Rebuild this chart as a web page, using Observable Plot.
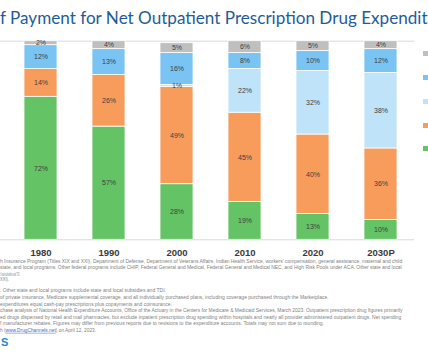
<!DOCTYPE html>
<html><head><meta charset="utf-8">
<script src="https://cdn.jsdelivr.net/npm/d3@7"></script>
<script src="https://cdn.jsdelivr.net/npm/@observablehq/plot@0.6"></script>
<style>
body{margin:0;background:#fff;}
#wrap{position:relative;width:428px;height:357px;overflow:hidden;background:#fff;font-family:"Liberation Sans",Arial,sans-serif;}
#wrap > *{position:absolute;}
</style></head><body>
<div id="wrap"></div>
<script>
// ---- data ----
const years = ["1980","1990","2000","2010","2020","2030P"];
const sources = ["Out-of-Pocket","Private Health Insurance","Medicare","Medicaid","Other Third Party Payers and Programs"];
const outOfPocket = [72,57,28,19,13,10];
const privateIns  = [14,26,49,45,40,36];
const medicare    = [0,0,1,22,32,38];
const medicaid    = [12,13,16,8,10,12];
const otherPayers = [2,4,5,6,5,4];
const colors = ["#64c365","#f89c5c","#bfe3f8","#79c4f2","#bfbfbf"];
const titleText = "f Payment for Net Outpatient Prescription Drug Expenditures";
const titleVisible = "f Payment for Net Outpatient Prescription Drug Expendit";
const notes = [
  "h Insurance Program (Titles XIX and XXI), Department of Defense, Department of Veterans Affairs, Indian Health Service, workers' compensation, general assistance, maternal and child",
  "state, and local programs. Other federal programs include CHIP, Federal General and Medical, Federal General and Medical NEC, and High Risk Pools under ACA. Other state and local",
  "f local subsidies and TDI.",
  "XXI).",
  ". Other state and local programs include state and local subsidies and TDI.",
  "of private insurance, Medicare supplemental coverage, and all individually purchased plans, including coverage purchased through the Marketplace.",
  "expenditures equal cash-pay prescriptions plus copayments and coinsurance.",
  "chase analysis of National Health Expenditure Accounts, Office of the Actuary in the Centers for Medicare & Medicaid Services, March 2023. Outpatient prescription drug figures primarily",
  "ed drugs dispensed by retail and mail pharmacies, but exclude inpatient prescription drug spending within hospitals and nearly all provider administered outpatient drugs. Net spending",
  "f manufacturer rebates. Figures may differ from previous reports due to revisions to the expenditure accounts. Totals may not sum due to rounding."
];
const sourceLine = ["h (", "www.DrugChannels.net", ") on April 12, 2023."];

const series = [outOfPocket, privateIns, medicare, medicaid, otherPayers];
const data = [];
years.forEach((y, i) => sources.forEach((s, j) => data.push({year: y, source: s, value: series[j][i]})));

const wrap = document.getElementById("wrap");
const NS = "http://www.w3.org/2000/svg";
function el(tag, attrs, parent) {
  const e = document.createElementNS(NS, tag);
  for (const k in attrs) e.setAttribute(k, attrs[k]);
  if (parent) parent.appendChild(e);
  return e;
}

// ---- title (cut at the right edge, as in the reference) ----
const head = el("svg", {width: 428, height: 32}, null);
head.style.left = "0px"; head.style.top = "0px";
wrap.appendChild(head);
const t = el("text", {x: 0, y: 24, "font-family": "Lato, 'Liberation Sans', sans-serif", "font-size": 18, fill: "#1f5c99"}, head);
t.textContent = titleText;
{
  const w = t.getSubStringLength(0, titleVisible.length);
  t.setAttribute("transform", `scale(${428 / w},1)`);
}

// ---- chart ----
const chart = Plot.plot({
  width: 428, height: 230,
  marginTop: 10.7, marginBottom: 20.7, marginLeft: 0, marginRight: 14,
  style: {fontFamily: "'Liberation Sans', Arial, sans-serif", background: "transparent"},
  x: {domain: years, paddingInner: 0.515, paddingOuter: 0.3015, align: 0.585, label: null},
  y: {domain: [0, 100], axis: null},
  color: {domain: sources, range: colors},
  marks: [
    Plot.ruleY([100], {stroke: "#d9d9d9"}),
    Plot.barY(data, {x: "year", y: "value", fill: "source", order: sources, stroke: "white", strokeWidth: 0.8}),
    Plot.ruleY([0], {stroke: "#d9d9d9"}),
    Plot.text(data, Plot.stackY({x: "year", y: "value", z: "source", order: sources,
      text: d => d.value > 0 ? d.value + "%" : null, fill: "#404040", fontSize: 7})),
    Plot.axisX({tickSize: 0, tickPadding: 9, fontSize: 9.5, fontWeight: "bold", fill: "#3a3a3a", label: null})
  ]
});
chart.style.left = "0px"; chart.style.top = "30px";
wrap.appendChild(chart);

// ---- legend swatches (their labels lie beyond the cropped right edge) ----
const legTops = [51, 74.5, 98.5, 122.5, 146];
[4, 3, 2, 1, 0].forEach((j, k) => {
  const sq = document.createElement("div");
  sq.style.cssText = `left:423px;top:${legTops[k]}px;width:5px;height:5px;background:${colors[j]};`;
  sq.title = sources[j];
  wrap.appendChild(sq);
});

// ---- footnotes ----
const foot = el("svg", {width: 428, height: 107}, null);
foot.style.left = "0px"; foot.style.top = "250px";
wrap.appendChild(foot);
const noteY = [261.5, 267.7, 273.8, 279.5, 290.5, 297.2, 304, 310.5, 317, 323.5];
const noteEnd = [403, 402, 20, 9, 166, 328, 172, 403, 401, 324];
notes.forEach((s, i) => {
  const tx = el("text", {x: 0, y: noteY[i] + 1.8 - 250, "font-size": 5.2, fill: "#7f7f7f",
    "font-family": "'Liberation Sans', Arial, sans-serif"}, foot);
  tx.textContent = s;
  const w = tx.getComputedTextLength();
  tx.setAttribute("transform", `scale(${noteEnd[i] / w},1)`);
});
{
  const tx = el("text", {x: 0, y: 330 + 1.8 - 250, "font-size": 5.2, fill: "#7f7f7f",
    "font-family": "'Liberation Sans', Arial, sans-serif"}, foot);
  const a = el("tspan", {}, tx); a.textContent = sourceLine[0];
  const b = el("tspan", {fill: "#3a6fc4", "text-decoration": "underline"}, tx); b.textContent = sourceLine[1];
  const c = el("tspan", {}, tx); c.textContent = sourceLine[2];
  const w = tx.getComputedTextLength();
  tx.setAttribute("transform", `scale(${96 / w},1)`);
  const logo = el("text", {x: 1, y: 345.5 - 250, "font-size": 11, "font-weight": "bold", fill: "#1f8ac4",
    "font-family": "'Liberation Sans', Arial, sans-serif"}, foot);
  logo.textContent = "S";
}
</script>
</body></html>
